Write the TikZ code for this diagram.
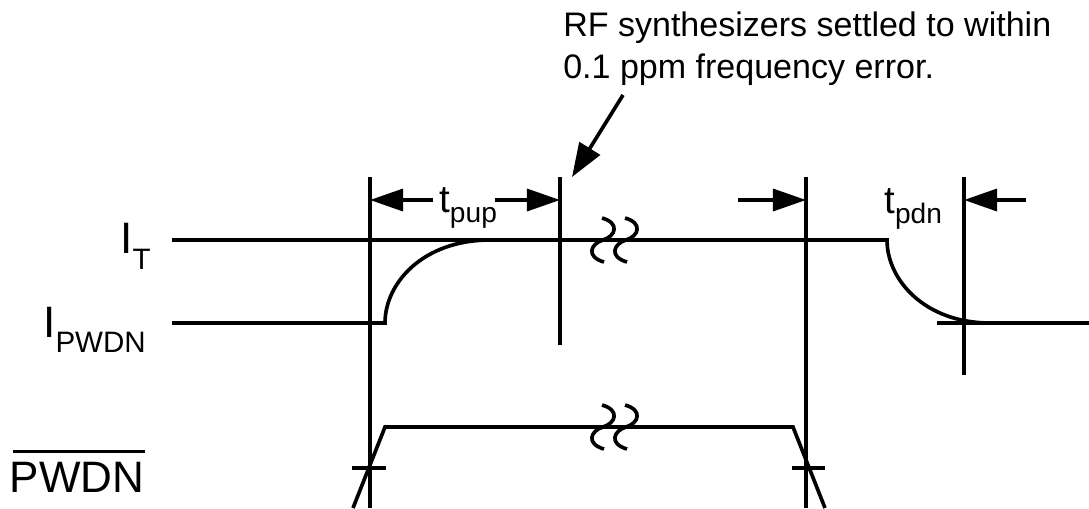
\documentclass[tikz,border=0pt]{standalone}
\usepackage{fontspec}
\setmainfont{Liberation Sans}
\usetikzlibrary{arrows.meta, calc}

\newcommand{\lblfont}{\fontsize{31.3}{36}\selectfont}
\newcommand{\lblsub}{\fontsize{21}{24}\selectfont}
\newcommand{\tfont}{\fontsize{27.4}{32}\selectfont}
\newcommand{\tsub}{\fontsize{20}{24}\selectfont}

\begin{document}
\begin{tikzpicture}[
  x=0.025cm, y=-0.025cm,
  sig/.style    ={line width=2.6pt},
  marker/.style ={line width=2.6pt},
  dim/.style    ={-{Triangle[length=23.5pt, width=15.6pt]}, line width=2.6pt},
  callout/.style={-{Triangle[length=24pt, width=17pt]}, line width=2.6pt},
  lbl/.style    ={inner sep=0pt, anchor=base west},
  note/.style   ={inner sep=0pt, anchor=base west, align=left,
                  font=\fontsize{24.2}{29.2}\selectfont},
]
\useasboundingbox (0,0) rectangle (1089,508);

% ----- Timing markers -----
\coordinate (onTop)     at (370,177);  \coordinate (onBot)     at (370,508);
\coordinate (settleTop) at (560,177);  \coordinate (settleBot) at (560,345);
\coordinate (offTop)    at (806,177);  \coordinate (offBot)    at (806,508);
\coordinate (doneTop)   at (964,177);  \coordinate (doneBot)   at (964,375);
\draw[marker] (onTop) -- (onBot);
\draw[marker] (settleTop) -- (settleBot);
\draw[marker] (offTop) -- (offBot);
\draw[marker] (doneTop) -- (doneBot);

% ----- Signal labels -----
\node[lbl] (lblIT)   at (120,253) {\lblfont I\raisebox{-11.4pt}{\lblsub T}};
\node[lbl] (lblIPD)  at (43,337)  {\lblfont I\raisebox{-10.7pt}{\lblsub PWDN}};
\node[lbl] (lblPWDN) at (9.5,492) {\lblfont PWDN};
\draw[sig] ($(lblPWDN.north west)+(3.5,-10)$) -- ($(lblPWDN.north east)+(0,-10)$);

% ----- Supply current -----
\draw[sig] (172,240) -- (887,240)
  .. controls (887,280) and (925,323) .. (990,323) -- (1089,323);
\draw[sig] (937,323) -- (990,323);
\draw[sig] (172,323) -- (385,323)
  .. controls (385,283) and (423,240) .. (490,240);

% ----- PWDN input -----
\draw[sig] (353,508) -- (385,427) -- (793,427) -- (825,508);
\draw[sig] (352,468) -- (386,468);
\draw[sig] (792,468) -- (825,468);

% ----- Time breaks -----
\foreach \cy in {240,427}
  \foreach \cx in {603,626}
    \draw[sig] (\cx-1,\cy-22) .. controls (\cx+17,\cy-17) and (\cx+13,\cy-4) .. (\cx,\cy)
                              .. controls (\cx-13,\cy+4) and (\cx-17,\cy+17) .. (\cx+1,\cy+22);

% ----- Power-up / power-down times -----
\coordinate (pupL) at (433,200);  \coordinate (pupR) at (495,200);
\coordinate (pdnL) at (738,200);  \coordinate (pdnR) at (1026,200);
\draw[dim] (pupL) -- (onTop |- pupL);
\draw[dim] (pupR) -- (settleTop |- pupR);
\draw[dim] (pdnL) -- (offTop |- pdnL);
\draw[dim] (pdnR) -- (doneTop |- pdnR);
\node[lbl] (tpup) at (439,212) {\tfont t\raisebox{-7.8pt}{\tsub pup}};
\node[lbl] (tpdn) at (884,213) {\tfont t\raisebox{-7.8pt}{\tsub pdn}};

% ----- Settling note -----
\node[note] (settleNote) at (563,78)
  {RF synthesizers settled to within\\0.1 ppm frequency error.};
\coordinate (noteTail) at (623,95);
\coordinate (noteTip)  at (572,177);
\draw[callout] (noteTail) -- (noteTip);

\end{tikzpicture}
\end{document}
